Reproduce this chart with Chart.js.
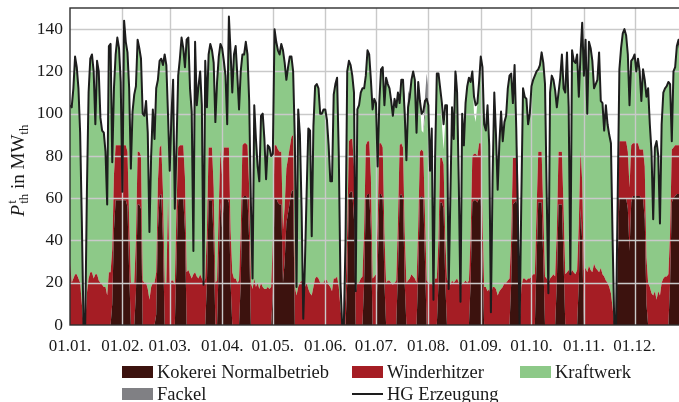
<!DOCTYPE html>
<html>
<head>
<meta charset="utf-8">
<script src="https://cdn.jsdelivr.net/npm/chart.js@4.4.1/dist/chart.umd.min.js"></script>
<style>
  html, body { margin: 0; padding: 0; background: #fff; overflow: hidden; }
  #wrap { position: relative; width: 700px; height: 402px; }
</style>
</head>
<body>
<div id="wrap"><canvas id="c" width="700" height="402"></canvas></div>
<script>
// Month starts (day of year) and their labels on the time axis
const monthStarts = [0, 31, 59, 90, 120, 151, 181, 212, 243, 273, 304, 334];
const monthLabels = ['01.01.', '01.02.', '01.03.', '01.04.', '01.05.', '01.06.',
                     '01.07.', '01.08.', '01.09.', '01.10.', '01.11.', '01.12.'];
const yTickValues = [0, 20, 40, 60, 80, 100, 120, 140];

// Daily thermal power in MW_th, one value per day of the year
const hgErzeugung = [
  104,103,112,127,122,112,91,49,0,0,
  63,110,126,128,120,95,125,120,98,92,
  91,82,57,132,133,77,112,128,136,131,
  115,63,144,134,129,112,74,101,109,113,
  135,131,126,100,99,106,91,44,80,102,
  88,112,116,125,126,123,128,123,99,73,
  99,116,55,85,118,126,136,131,122,135,
  136,112,101,35,134,104,113,120,104,19,
  125,103,128,133,130,124,96,115,127,133,
  131,125,118,95,146,129,110,128,132,118,
  102,120,128,128,134,128,106,58,22,104,
  88,75,68,99,100,88,69,85,84,80,
  81,140,134,130,128,133,130,124,116,122,
  127,127,120,88,18,102,90,55,3,30,
  63,93,92,42,94,113,114,112,100,100,
  102,102,97,85,68,68,109,114,117,81,
  20,0,0,40,120,125,123,118,110,16,
  102,104,110,112,112,118,130,128,116,102,
  107,105,75,106,121,122,104,117,114,112,
  106,99,107,103,110,105,116,116,100,78,
  103,108,116,120,116,91,115,106,100,101,
  106,107,104,73,93,12,80,119,119,112,
  105,95,104,104,17,60,103,88,120,110,
  67,11,100,85,105,113,117,115,120,108,
  104,105,115,127,122,95,92,104,85,6,
  70,110,90,64,86,101,87,96,99,112,
  118,119,105,123,93,50,0,60,112,108,
  107,95,100,113,116,118,120,121,123,129,
  124,114,62,15,110,118,116,111,103,110,
  117,128,112,110,129,103,24,130,125,124,
  128,108,128,143,118,135,100,134,131,125,
  112,114,116,129,106,105,92,104,95,90,
  86,40,0,0,60,121,131,138,140,137,
  128,104,125,126,128,120,126,120,106,121,
  116,108,112,95,82,50,84,87,80,48,
  95,110,112,113,115,114,87,120,122,132,
  135,130,128,125,120
];

const kokerei = [
  0,0,0,0,0,0,0,0,0,0,
  0,0,0,0,0,0,0,0,0,0,
  0,0,0,0,0,10,45,59,59,59,
  59,59,59,59,56,25,0,0,0,15,
  57,57,55,0,0,0,0,0,0,0,
  0,5,45,61,62,40,0,0,0,0,
  0,0,0,30,59,60,60,60,45,0,
  0,0,0,0,0,0,0,0,0,0,
  0,20,59,59,59,40,0,0,30,58,
  45,60,60,60,58,20,0,0,0,0,
  0,20,60,61,61,60,40,0,0,0,
  0,0,0,0,0,0,0,0,0,0,
  15,60,60,58,57,57,20,30,48,53,
  58,63,64,0,0,0,0,0,0,0,
  0,0,0,0,0,0,0,0,0,0,
  0,0,0,0,0,0,0,0,0,0,
  0,0,0,0,20,62,63,63,50,0,
  0,0,0,0,20,60,62,62,45,0,
  0,0,25,62,62,60,20,0,0,0,
  0,0,0,0,25,61,62,60,20,0,
  0,0,0,0,0,0,25,60,61,60,
  30,0,0,0,0,0,0,0,20,58,
  58,55,20,0,0,0,0,0,0,0,
  0,0,0,0,0,0,0,20,58,59,
  59,58,60,60,30,0,0,0,0,0,
  0,0,0,0,0,0,0,0,0,0,
  0,20,57,58,59,55,0,0,0,0,
  0,0,0,0,0,0,30,58,58,58,
  30,0,0,0,0,0,0,0,20,57,
  57,57,30,0,0,0,0,0,0,0,
  0,20,55,40,0,0,0,0,0,0,
  0,0,0,0,0,0,0,0,0,0,
  0,0,0,0,30,60,60,60,60,60,
  55,35,58,61,61,61,61,61,60,60,
  50,10,0,0,0,0,0,0,0,0,
  0,0,0,0,0,20,58,60,61,62,
  62,62,62,62,62
];

const winderhitzer = [
  30,20,22,24,24,22,20,10,0,0,
  15,22,25,25,22,24,24,21,20,19,
  18,18,14,25,25,26,26,26,26,26,
  26,26,26,26,26,25,20,20,20,25,
  25,25,25,21,20,20,17,12,18,20,
  20,20,23,23,23,23,20,20,60,20,
  21,21,19,25,25,25,25,25,25,25,
  26,24,22,24,25,23,22,24,22,20,
  22,25,25,25,25,25,20,21,25,25,
  25,24,24,24,26,25,25,22,22,20,
  21,25,25,25,25,25,25,20,17,22,
  18,20,17,20,18,17,17,18,17,18,
  25,25,25,25,25,25,25,26,26,26,
  26,26,26,18,14,18,20,21,17,18,
  20,17,15,14,18,22,23,22,20,20,
  20,22,21,19,18,16,22,22,23,18,
  8,0,0,15,25,25,25,25,25,15,
  20,20,22,23,25,25,25,25,25,22,
  23,24,24,24,24,24,24,20,21,21,
  20,19,20,21,24,24,24,24,24,20,
  21,22,24,23,22,20,22,22,22,22,
  22,21,20,20,20,18,22,22,21,21,
  21,21,21,22,20,19,21,20,21,22,
  20,18,20,20,21,20,21,22,22,22,
  22,22,26,26,22,18,18,16,17,14,
  18,18,17,14,16,17,18,20,20,21,
  22,21,22,21,20,20,0,18,22,22,
  21,22,22,23,24,24,24,24,24,24,
  24,23,22,20,22,23,24,23,25,25,
  25,25,25,24,25,26,24,26,25,24,
  26,28,28,28,26,27,25,28,26,25,
  29,27,26,25,27,24,23,21,20,18,
  15,8,0,0,20,27,27,27,27,27,
  27,30,27,25,25,25,25,22,23,23,
  25,22,20,18,15,14,16,12,16,14,
  20,22,23,23,24,24,25,24,24,23,
  23,23,23,23,23
];

const kraftwerk = [
  74,83,90,103,98,90,71,39,0,0,
  48,88,101,103,98,71,101,99,78,73,
  73,64,43,107,108,41,41,43,51,46,
  30,0,59,49,47,62,54,81,89,73,
  53,49,46,79,79,86,74,32,62,82,
  68,87,48,41,41,60,108,103,39,53,
  78,95,36,30,34,41,51,46,52,110,
  110,88,79,11,109,81,91,96,82,0,
  103,58,44,49,46,59,76,94,72,50,
  61,41,34,11,62,84,85,106,110,98,
  81,75,43,42,48,43,41,38,5,82,
  70,55,51,79,82,71,52,67,67,62,
  41,55,49,47,46,51,85,68,42,43,
  43,38,30,70,4,84,70,34,0,12,
  43,76,77,28,76,91,91,90,80,80,
  82,80,76,66,50,52,87,92,94,63,
  12,0,0,25,75,38,35,30,35,1,
  82,84,88,89,67,33,43,41,46,80,
  84,81,26,20,35,38,60,97,93,91,
  86,80,87,82,61,20,30,32,56,58,
  82,86,92,97,94,71,68,24,9,9,
  46,86,84,53,73,0,58,97,78,33,
  16,7,55,82,0,41,82,68,99,88,
  47,0,80,65,84,93,96,73,40,19,
  15,25,29,41,70,77,74,88,68,0,
  52,92,73,50,70,84,69,76,79,91,
  96,78,26,44,14,0,0,42,90,86,
  86,73,78,90,92,94,66,39,41,47,
  70,91,40,0,88,95,92,88,58,28,
  35,46,57,86,104,77,0,104,100,100,
  102,60,45,75,92,108,75,106,105,100,
  83,87,90,104,79,81,69,83,75,72,
  71,32,0,0,10,34,44,51,53,50,
  46,39,40,40,42,34,40,37,23,38,
  41,76,92,77,67,36,68,75,64,34,
  75,88,89,90,91,70,4,36,37,47,
  50,45,43,40,35
];

const fackel = [
  0,0,0,0,0,0,0,0,0,0, 0,0,0,0,0,0,0,0,0,0, 0,0,0,0,0,0,0,0,0,0,
  0,0,0,0,0,0,0,0,0,0, 0,0,0,0,0,0,0,0,0,0, 0,0,0,0,0,0,0,0,0,0,
  0,0,0,0,0,0,0,0,0,0, 0,0,0,0,0,0,0,0,0,0, 0,0,0,0,0,0,0,0,0,0,
  0,0,0,0,0,0,0,0,0,0, 0,0,0,0,0,0,0,0,0,0, 0,0,0,0,0,0,0,0,0,0,
  0,0,0,0,0,0,0,0,0,0, 0,0,0,0,0,0,0,0,0,0, 0,0,0,0,0,0,0,0,0,0,
  0,0,0,0,0,0,0,0,0,0, 0,0,0,0,0,0,0,0,0,0, 0,0,0,0,0,0,0,0,0,0,
  0,0,0,0,0,0,0,0,0,0,
  0,0,0,0,0,0,0,0,8,10,
  8,0,0,0,0,0,0,0,0,0,
  10,12,8,0,0,0,0,0,0,0,
  0,0,0,0,0,0,0,0,0,8,
  8,0,0,0,0,0,0,0,0,0,
  0,0,0,0,0,0,0,0,0,0, 0,0,0,0,0,0,0,0,0,0, 0,0,0,0,0,0,0,0,0,0,
  0,0,0,0,0,0,0,0,0,0, 0,0,0,0,0,0,0,0,0,0, 0,0,0,0,0,0,0,0,0,0,
  0,0,0,0,0,0,0,0,0,0, 0,0,0,0,0,0,0,0,0,0, 0,0,0,0,0,0,0,0,0,0,
  0,0,0,0,0,0,0,0,0,0, 0,0,0,0,0,0,0,0,0,0,
  0,0,0,0,0
];

// Day-of-year positions shared by all series
const dayOfYear = hgErzeugung.map((_, i) => i);

const COLORS = {
  kokerei: 'rgb(60,18,14)',
  winderhitzer: 'rgb(165,29,36)',
  kraftwerk: 'rgb(141,201,136)',
  fackel: 'rgb(128,128,132)',
  line: '#1d1d1d',
  grid: '#c9c9c9',
  frame: '#2e2e2e',
  text: '#1a1a1a'
};
const SERIF = '"Liberation Serif", "Times New Roman", serif';

// Grid goes on top of the filled areas but underneath the HG line
const gridOverAreas = {
  id: 'gridOverAreas',
  beforeDatasetDraw(chart, args) {
    if (chart.data.datasets[args.index].label !== 'HG Erzeugung') return;
    const { ctx, chartArea: a, scales: { x, y } } = chart;
    ctx.save();
    ctx.strokeStyle = COLORS.grid;
    ctx.lineWidth = 1.4;
    ctx.beginPath();
    monthStarts.slice(1).forEach(d => {
      const px = Math.round(x.getPixelForValue(d)) + 0.5;
      ctx.moveTo(px, a.top); ctx.lineTo(px, a.bottom);
    });
    yTickValues.slice(1).forEach(v => {
      const py = Math.round(y.getPixelForValue(v)) + 0.5;
      ctx.moveTo(a.left, py); ctx.lineTo(a.right, py);
    });
    ctx.stroke();
    ctx.restore();
  },
  afterDatasetsDraw(chart) {
    const { ctx, chartArea: a } = chart;
    ctx.save();
    ctx.strokeStyle = COLORS.frame;
    ctx.lineWidth = 1.4;
    ctx.strokeRect(a.left, a.top, a.right - a.left, a.bottom - a.top);
    ctx.restore();
  }
};

// Rotated y-axis title: P^t_th in MW_th
const axisTitle = {
  id: 'axisTitle',
  afterDraw(chart) {
    const ctx = chart.ctx;
    const big = 19, small = 13;
    const fBig = `${big}px ${SERIF}`, fItal = `italic ${big}px ${SERIF}`, fSmall = `${small}px ${SERIF}`;
    ctx.save();
    ctx.fillStyle = COLORS.text;
    ctx.textBaseline = 'alphabetic';
    ctx.textAlign = 'left';
    ctx.font = fItal; const wP = ctx.measureText('P').width;
    ctx.font = fSmall; const wSub = Math.max(ctx.measureText('th').width, ctx.measureText('t').width);
    ctx.font = fBig; const wMid = ctx.measureText(' in MW').width;
    ctx.font = fSmall; const wTh = ctx.measureText('th').width;
    const total = wP + 1 + wSub + wMid + wTh;
    const cy = (chart.chartArea.top + chart.chartArea.bottom) / 2 + 4;
    ctx.translate(24, cy);
    ctx.rotate(-Math.PI / 2);
    let xp = -total / 2;
    ctx.font = fItal; ctx.fillText('P', xp, 0); xp += wP + 1;
    ctx.font = fSmall; ctx.fillText('t', xp, -8); ctx.fillText('th', xp, 4); xp += wSub;
    ctx.font = fBig; ctx.fillText(' in MW', xp, 0); xp += wMid;
    ctx.font = fSmall; ctx.fillText('th', xp, 4);
    ctx.restore();
  }
};

// Two-row legend under the time axis
const legendRows = {
  id: 'legendRows',
  afterDraw(chart) {
    const ctx = chart.ctx;
    const items = [
      { label: 'Kokerei Normalbetrieb', color: COLORS.kokerei, x: 122, y: 372 },
      { label: 'Winderhitzer', color: COLORS.winderhitzer, x: 352, y: 372 },
      { label: 'Kraftwerk', color: COLORS.kraftwerk, x: 520, y: 372 },
      { label: 'Fackel', color: COLORS.fackel, x: 122, y: 394 },
      { label: 'HG Erzeugung', color: COLORS.line, x: 352, y: 394, line: true }
    ];
    ctx.save();
    ctx.font = `18.5px ${SERIF}`;
    ctx.textBaseline = 'middle';
    ctx.textAlign = 'left';
    items.forEach(it => {
      if (it.line) {
        ctx.strokeStyle = it.color; ctx.lineWidth = 2;
        ctx.beginPath(); ctx.moveTo(it.x, it.y); ctx.lineTo(it.x + 31, it.y); ctx.stroke();
      } else {
        ctx.fillStyle = it.color;
        ctx.fillRect(it.x, it.y - 6, 31, 12);
      }
      ctx.fillStyle = COLORS.text;
      ctx.fillText(it.label, it.x + 35, it.y + 1);
    });
    ctx.restore();
  }
};

// Stacked consumer areas keep dataset order (bottom to top); the HG line is drawn last
const areaDefaults = { pointRadius: 0, borderWidth: 0, tension: 0, stack: 'verbrauch', order: 1 };

new Chart(document.getElementById('c'), {
  type: 'line',
  data: {
    labels: dayOfYear,
    datasets: [
      { label: 'HG Erzeugung', data: hgErzeugung, stack: 'erzeugung', order: 0,
        borderColor: COLORS.line, borderWidth: 2, pointRadius: 0, fill: false,
        tension: 0, borderJoinStyle: 'round' },
      { ...areaDefaults, label: 'Kokerei Normalbetrieb', data: kokerei,
        backgroundColor: COLORS.kokerei, borderColor: COLORS.kokerei, fill: 'origin' },
      { ...areaDefaults, label: 'Winderhitzer', data: winderhitzer,
        backgroundColor: COLORS.winderhitzer, borderColor: COLORS.winderhitzer, fill: '-1' },
      { ...areaDefaults, label: 'Kraftwerk', data: kraftwerk,
        backgroundColor: COLORS.kraftwerk, borderColor: COLORS.kraftwerk, fill: '-1' },
      { ...areaDefaults, label: 'Fackel', data: fackel,
        backgroundColor: COLORS.fackel, borderColor: COLORS.fackel, fill: '-1' }
    ]
  },
  options: {
    responsive: false,
    animation: false,
    layout: { padding: { left: 0, right: 13, top: 8, bottom: 0 } },
    plugins: { legend: { display: false }, tooltip: { enabled: false } },
    scales: {
      x: {
        type: 'linear', min: 0, max: 365,
        grid: { display: false, drawTicks: false },
        border: { display: false },
        afterBuildTicks: s => { s.ticks = monthStarts.map(v => ({ value: v })); },
        afterFit: s => { s.height = 77; s.paddingLeft = 0; s.paddingRight = 0; },
        ticks: {
          autoSkip: false, maxRotation: 0, padding: 11, color: COLORS.text,
          font: { family: SERIF, size: 17 },
          callback: (v, i) => monthLabels[i]
        }
      },
      y: {
        stacked: true, min: 0, max: 150,
        grid: { display: false, drawTicks: false },
        border: { display: false },
        afterBuildTicks: s => { s.ticks = yTickValues.map(v => ({ value: v })); },
        afterFit: s => { s.width = 70; s.paddingTop = 0; s.paddingBottom = 0; },
        ticks: { padding: 7, color: COLORS.text, font: { family: SERIF, size: 17.5 } }
      }
    }
  },
  plugins: [gridOverAreas, axisTitle, legendRows]
});
</script>
</body>
</html>
